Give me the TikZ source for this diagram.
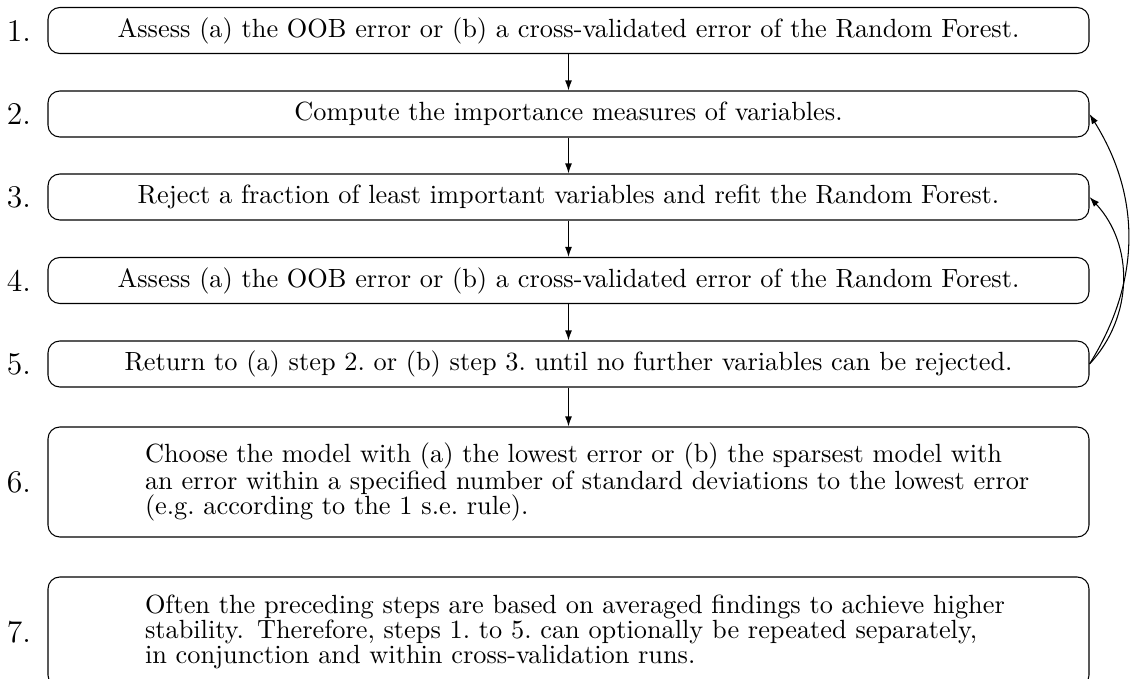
\documentclass[tikz,border=0pt]{standalone}
\usetikzlibrary{arrows.meta}
\begin{document}
\begin{tikzpicture}[x=0.38pt, y=0.38pt,
  stepbox/.style={draw, rounded corners=4.5pt, minimum width=1041*0.38pt,
    minimum height=46*0.38pt, inner sep=0pt, align=center},
  tallbox/.style={draw, rounded corners=4.5pt, minimum height=110*0.38pt,
    inner ysep=0pt, inner xsep=97*0.38pt, text width=847*0.38pt, align=left,
    font=\fontsize{10}{9.5}\selectfont},
  num/.style={font=\large, inner sep=0pt},
  flow/.style={-{Latex[length=3.8pt,width=2.6pt]}},
  back/.style={-{Latex[length=3.8pt,width=2.6pt]}}
]
\clip (0,0) rectangle (1133,-679);
\useasboundingbox (0,0) rectangle (1133,-679);

% step boxes
\node[stepbox] (b1) at (568.5,-30.5) {Assess (a) the OOB error or (b) a cross-validated error of the Random Forest.};
\node[stepbox] (b2) at (568.5,-114) {Compute the importance measures of variables.};
\node[stepbox] (b3) at (568.5,-197) {Reject a fraction of least important variables and refit the Random Forest.};
\node[stepbox] (b4) at (568.5,-280.5) {Assess (a) the OOB error or (b) a cross-validated error of the Random Forest.};
\node[stepbox] (b5) at (568.5,-364) {Return to (a) step 2.\ or (b) step 3.\ until no further variables can be rejected.};
\node[tallbox] (b6) at (568.5,-482) {\mbox{Choose the model with (a) the lowest error or (b) the sparsest model with}\\
\mbox{an error within a specified number of standard deviations to the lowest error}\\
\mbox{(e.g.\ according to the 1 s.e.\ rule).}};
\node[tallbox] (b7) at (568.5,-632) {\mbox{Often the preceding steps are based on averaged findings to achieve higher}\\
\mbox{stability. Therefore, steps 1.\ to 5.\ can optionally be repeated separately,}\\
\mbox{in conjunction and within cross-validation runs.}};

% step numbers
\node[num] (n1) at (19,-30.5) {1.};
\node[num] (n2) at (19,-114) {2.};
\node[num] (n3) at (19,-197) {3.};
\node[num] (n4) at (19,-280.5) {4.};
\node[num] (n5) at (19,-364) {5.};
\node[num] (n6) at (19,-482) {6.};
\node[num] (n7) at (19,-632) {7.};

% sequence
\draw[flow] (b1) -- (b2);
\draw[flow] (b2) -- (b3);
\draw[flow] (b3) -- (b4);
\draw[flow] (b4) -- (b5);
\draw[flow] (b5) -- (b6);

% loops back
\draw[back] (b5.east) to[bend right=32] (b2.east);
\draw[back] (b5.east) to[bend right=43] (b3.east);
\end{tikzpicture}
\end{document}
